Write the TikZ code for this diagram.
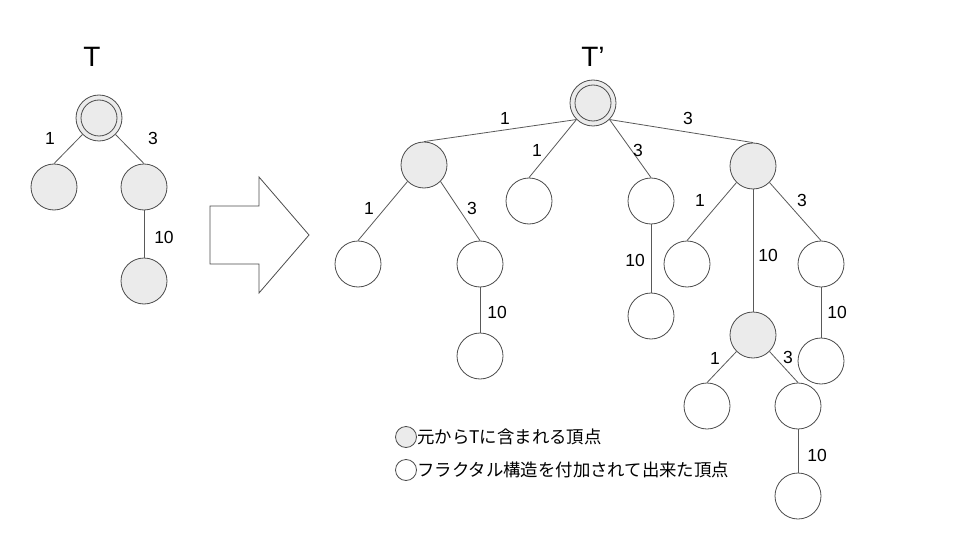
\documentclass[tikz,border=0pt]{standalone}
\usepackage{fontspec}
\setmainfont{Liberation Sans}
\newfontfamily\jpfont{Noto Sans CJK JP}
\begin{document}
\begin{tikzpicture}[x=1pt,y=-1pt,
  vtx/.style={circle,draw=black!70,line width=0.8pt,minimum size=46pt,inner sep=0pt},
  orig/.style={vtx,fill=black!8},
  newv/.style={vtx,fill=white},
  edge/.style={draw=black!65,line width=0.8pt},
  lbl/.style={font=\fontsize{17.5}{19}\selectfont,inner sep=0pt},
  ttl/.style={font=\fontsize{28}{30}\selectfont,inner sep=0pt},
  leg/.style={font=\jpfont\fontsize{17.4}{19}\selectfont,inner sep=0pt,anchor=west}]
\useasboundingbox (0,0) rectangle (960,540);
% ---- tree T
\node[ttl] (tT) at (92,57) {T};
\node[orig] (r) at (99,118) {};
\node[circle,draw=black!70,line width=0.8pt,minimum size=36pt,inner sep=0pt] (ri) at (r) {};
\node[orig] (a) at (54,187) {};
\node[orig] (b) at (144,187) {};
\node[orig] (c) at (144,281) {};
\draw[edge] (r.south west) -- (a.north);
\draw[edge] (r.south east) -- (b.north);
\draw[edge] (b.south) -- (c.north);
\node[lbl] (l1) at (50,138) {1};
\node[lbl] (l2) at (153,138) {3};
\node[lbl] (l3) at (164,237) {10};
% ---- big arrow
\draw[draw=black!70,line width=0.8pt,fill=white] (210,206) -- (259,206) -- (259,177) -- (309,235) -- (259,293) -- (259,264) -- (210,264) -- cycle;
% ---- tree T'
\node[ttl] (tTp) at (593,57) {T’};
\node[orig] (R) at (593,103) {};
\node[circle,draw=black!70,line width=0.8pt,minimum size=36pt,inner sep=0pt] (Ri) at (R) {};
\node[orig] (A) at (424,165) {};
\node[newv] (B) at (529,201) {};
\node[newv] (C) at (651,201) {};
\node[orig] (D) at (753,166) {};
\node[newv] (A1) at (358,264) {};
\node[newv] (A2) at (480,264) {};
\node[newv] (A21) at (480,356) {};
\node[newv] (C1) at (651,316) {};
\node[newv] (D1) at (687,264) {};
\node[orig] (D2) at (753,335) {};
\node[newv] (D3) at (821,264) {};
\node[newv] (D31) at (821,361) {};
\node[newv] (D21) at (707,406) {};
\node[newv] (D22) at (798,406) {};
\node[newv] (D221) at (798,496) {};
\draw[edge] (R.south west) -- (A.north);
\draw[edge] (R.south west) -- (B.north);
\draw[edge] (R.south east) -- (C.north);
\draw[edge] (R.south east) -- (D.north);
\draw[edge] (A.south west) -- (A1.north);
\draw[edge] (A.south east) -- (A2.north);
\draw[edge] (A2.south) -- (A21.north);
\draw[edge] (C.south) -- (C1.north);
\draw[edge] (D.south west) -- (D1.north);
\draw[edge] (D.south) -- (D2.north);
\draw[edge] (D.south east) -- (D3.north);
\draw[edge] (D3.south) -- (D31.north);
\draw[edge] (D2.south west) -- (D21.north);
\draw[edge] (D2.south east) -- (D22.north);
\draw[edge] (D22.south) -- (D221.north);
\node[lbl] (m1) at (505,118) {1};
\node[lbl] (m2) at (688,118) {3};
\node[lbl] (m3) at (537,150) {1};
\node[lbl] (m4) at (638,150) {3};
\node[lbl] (m5) at (369,208) {1};
\node[lbl] (m6) at (472,208) {3};
\node[lbl] (m7) at (497,312) {10};
\node[lbl] (m8) at (635,260) {10};
\node[lbl] (m9) at (700,200) {1};
\node[lbl] (m10) at (768,255) {10};
\node[lbl] (m11) at (802,200) {3};
\node[lbl] (m12) at (837,312) {10};
\node[lbl] (m13) at (715,358) {1};
\node[lbl] (m14) at (788,357) {3};
\node[lbl] (m15) at (817,455) {10};
% ---- legend
\node[circle,draw=black!70,line width=0.8pt,fill=black!8,minimum size=21pt,inner sep=0pt] (g1) at (406,437) {};
\node[leg] (t1) at (417,437) {元からTに含まれる頂点};
\node[circle,draw=black!70,line width=0.8pt,fill=white,minimum size=21pt,inner sep=0pt] (g2) at (406,470) {};
\node[leg] (t2) at (417,470) {フラクタル構造を付加されて出来た頂点};
\end{tikzpicture}
\end{document}
